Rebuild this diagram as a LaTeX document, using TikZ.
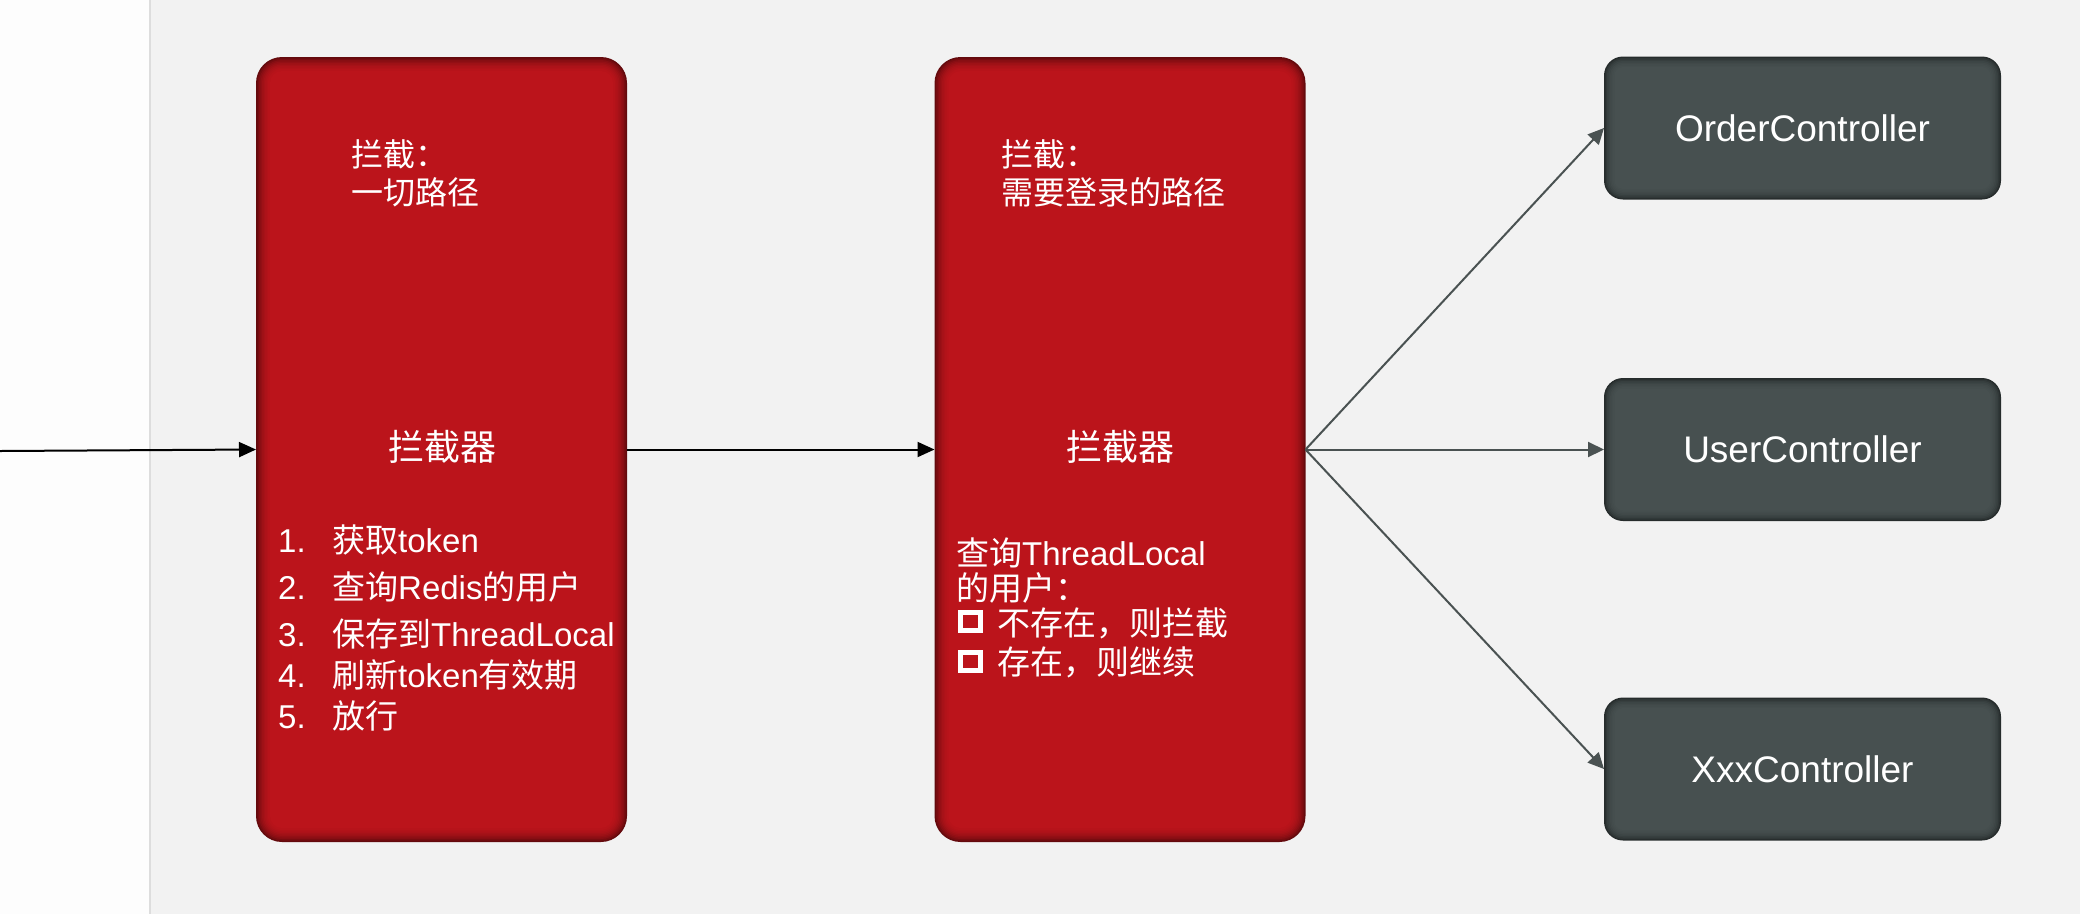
\documentclass[tikz,border=0pt]{standalone}
\usepackage{fontspec}
\setmainfont{Liberation Sans}
\newfontfamily\cjk{Noto Sans CJK SC}
\usetikzlibrary{arrows.meta}
\definecolor{pagebg}{HTML}{F2F2F2}
\definecolor{sidebg}{HTML}{FDFDFD}
\definecolor{sideline}{HTML}{DDDDDD}
\definecolor{redbody}{HTML}{BB141B}
\definecolor{rededge}{HTML}{640A0D}
\definecolor{graybody}{HTML}{475050}
\definecolor{grayedge}{HTML}{262C2C}
\definecolor{arrowgray}{HTML}{4A5252}
\newcommand\zh[1]{{\cjk #1}}
\newcommand\vign[5]{%
  \foreach \i/\p in #5{%
    \pgfmathsetmacro\vgr{max(#4-\i,3)}%
    \fill[#2!\p!#3, rounded corners=\vgr pt] ([shift={(\i,\i)}]#1.north west) rectangle ([shift={(-\i,-\i)}]#1.south east);
  }}
\def\redsteps{0/0,1.5/22,3/40,4.5/54,6/66,7.5/76,9/84,10.5/90,12/95,14/100}
\def\graysteps{0/0,1.5/30,3/52,4.5/68,6/80,7.5/89,9/95,10.5/100}
\begin{document}
\begin{tikzpicture}[x=1pt,y=-1pt,
  boxshape/.style={draw=none, inner sep=0pt, outer sep=0pt},
  redbox/.style={boxshape, minimum width=371pt, minimum height=785pt},
  ctrlbox/.style={boxshape, minimum width=397pt, minimum height=143pt},
  lbl/.style={inner sep=0pt, text=white, anchor=base west, font=\fontsize{32}{38}\selectfont},
  lst/.style={inner sep=0pt, text=white, anchor=base west, font=\fontsize{33}{40}\selectfont},
  bigt/.style={inner sep=0pt, text=white, anchor=base, font=\fontsize{36}{42}\selectfont},
  ctrltxt/.style={inner sep=0pt, text=white, font=\fontsize{37}{44}\selectfont},
  sq/.style={draw=white, line width=5pt, minimum width=20pt, minimum height=18pt, inner sep=0pt, outer sep=0pt},
  blackarrow/.style={draw=black, line width=2pt, -{Triangle[length=17pt,width=15pt]}},
  grayarrow/.style={draw=arrowgray, line width=2pt, -{Triangle[length=16pt,width=15pt]}}
]
\useasboundingbox (0,0) rectangle (2080,914);
\fill[sidebg] (0,0) rectangle (150,914);
\fill[pagebg] (150,0) rectangle (2080,914);
\draw[sideline, line width=2.5pt] (150,0) -- (150,914);

% boxes
\node[redbox] (b1) at (441.5,449.5) {};
\node[redbox] (b2) at (1120,449.5) {};
\node[ctrlbox] (c1) at (1802.5,128) {};
\node[ctrlbox] (c2) at (1802.5,449.5) {};
\node[ctrlbox] (c3) at (1802.5,769) {};
\vign{b1}{redbody}{rededge}{26}{\redsteps}
\vign{b2}{redbody}{rededge}{26}{\redsteps}
\vign{c1}{graybody}{grayedge}{19}{\graysteps}
\vign{c2}{graybody}{grayedge}{19}{\graysteps}
\vign{c3}{graybody}{grayedge}{19}{\graysteps}

% box 1 texts
\node[lbl] (t1a) at (351,166) {\zh{拦截：}};
\node[lbl] (t1b) at (351,204) {\zh{一切路径}};
\node[bigt] (h1) at (442,460) {\zh{拦截器}};
\node[lst] (n1) at (278,552.5) {1.};
\node[lst] (l1) at (332,552.5) {\zh{获取}token};
\node[lst] (n2) at (278,599.5) {2.};
\node[lst] (l2) at (332,599.5) {\zh{查询}Redis\zh{的用户}};
\node[lst] (n3) at (278,646.5) {3.};
\node[lst] (l3) at (332,646.5) {\zh{保存到}ThreadLocal};
\node[lst] (n4) at (278,687.5) {4.};
\node[lst] (l4) at (332,687.5) {\zh{刷新}token\zh{有效期}};
\node[lst] (n5) at (278,728.5) {5.};
\node[lst] (l5) at (332,728.5) {\zh{放行}};

% box 2 texts
\node[lbl] (t2a) at (1001,166) {\zh{拦截：}};
\node[lbl] (t2b) at (1001,204) {\zh{需要登录的路径}};
\node[bigt] (h2) at (1120,460) {\zh{拦截器}};
\node[lst] (m1) at (956,565.5) {\zh{查询}ThreadLocal};
\node[lst] (m2) at (956,600.5) {\zh{的用户：}};
\node[sq] (s1) at (970.5,621.5) {};
\node[lst] (m3) at (997,635.5) {\zh{不存在，则拦截}};
\node[sq] (s2) at (970.5,661.5) {};
\node[lst] (m4) at (997,674.5) {\zh{存在，则继续}};

% controller texts
\node[ctrltxt] (c1t) at (c1.center) {OrderController};
\node[ctrltxt] (c2t) at (c2.center) {UserController};
\node[ctrltxt] (c3t) at (c3.center) {XxxController};

% connectors
\coordinate (in) at (0,451);
\draw[blackarrow] (in) -- (b1.west);
\draw[blackarrow] (b1.east) -- (b2.west);
\draw[grayarrow] (b2.east) -- (c1.west);
\draw[grayarrow] (b2.east) -- (c2.west);
\draw[grayarrow] (b2.east) -- (c3.west);
\end{tikzpicture}
\end{document}
